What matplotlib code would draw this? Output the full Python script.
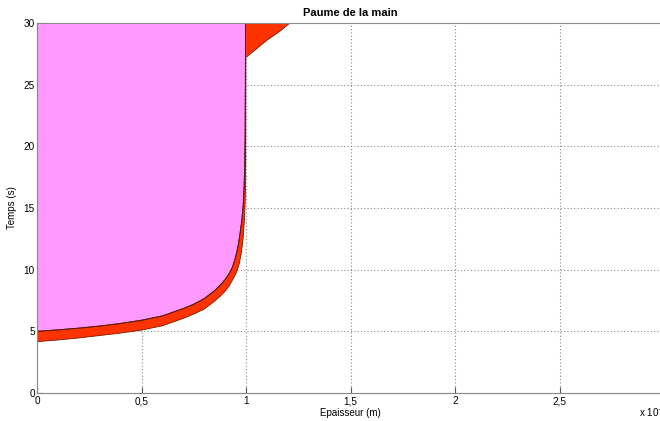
import matplotlib
matplotlib.use("Agg")
import matplotlib.pyplot as plt

# Pink region boundary (curve A): x in units of 1e-3 m, t in s
xA = [0.0, 0.1, 0.2, 0.3, 0.4, 0.5, 0.6, 0.7, 0.75, 0.8, 0.85, 0.88, 0.9, 0.92,
      0.935, 0.95, 0.962, 0.972, 0.98, 0.987, 0.991, 0.994, 0.996, 0.997, 0.998]
tA = [5.0, 5.12, 5.26, 5.43, 5.64, 5.9, 6.25, 6.85, 7.2, 7.65, 8.3, 8.8, 9.2, 9.7,
      10.2, 11.0, 11.9, 13.0, 14.0, 15.3, 16.8, 18.5, 21.0, 25.0, 30.0]
# Red band outer boundary (curve B)
xB = [0.0, 0.1, 0.2, 0.3, 0.4, 0.5, 0.6, 0.7, 0.75, 0.8, 0.85, 0.88, 0.9, 0.92,
      0.94, 0.955, 0.968, 0.978, 0.986, 0.992, 0.996, 0.998, 0.999,
      1.05, 1.1, 1.16, 1.21]
tB = [4.16, 4.3, 4.46, 4.66, 4.86, 5.1, 5.45, 6.05, 6.4, 6.8, 7.45, 7.9, 8.25, 8.7,
      9.3, 9.8, 10.5, 11.4, 12.5, 13.9, 15.5, 17.0, 27.2,
      27.9, 28.6, 29.3, 30.0]

xticks = [0, 0.5, 1, 1.5, 2, 2.5, 3]
xticklabels = ["0", "0,5", "1", "1,5", "2", "2,5", "3"]
yticks = [0, 5, 10, 15, 20, 25, 30]

plt.rcParams['font.family'] = ['Liberation Sans', 'DejaVu Sans']
fig = plt.figure(figsize=(6.6, 4.21), dpi=100)
ax = fig.add_axes([37/660, 1-393/421, (664-37)/660, (393-23)/421])

# pink region: left of / above curve A
ax.fill(xA + [0.0], tA + [30.0], facecolor='#ff99ff', edgecolor='none', zorder=2)
# red band between A and B
ax.fill(xB + xA[::-1], tB + tA[::-1], facecolor='#ff3300', edgecolor='#7a1a00',
        linewidth=0.6, zorder=3)
ax.plot(xA, tA, color='#5a1a10', linewidth=0.7, zorder=4)

ax.set_xlim(0, 3)
ax.set_ylim(0, 30)
ax.set_xticks(xticks)
ax.set_xticklabels(xticklabels)
ax.set_yticks(yticks)
ax.grid(True, linestyle=(0, (1, 2)), color='#888888', linewidth=0.8, zorder=1)
ax.set_axisbelow(True)
ax.tick_params(direction='in', labelsize=7.2, length=4, color='#555555')
ax.tick_params(axis='x', pad=2.5)
ax.tick_params(axis='y', pad=1.5)
for s in ax.spines.values():
    s.set_color('#888888')
    s.set_linewidth(0.8)
    s.set_zorder(5)

ax.set_title("Paume de la main", fontsize=8, fontweight='bold', pad=5)
ax.set_xlabel("Epaisseur (m)", fontsize=7, labelpad=1)
ax.set_ylabel("Temps (s)", fontsize=7, labelpad=5)
fig.text(639/660, 1-412/421, "x 10$^{-3}$", fontsize=7, va='center', ha='left')

fig.savefig("out.png", dpi=100)
